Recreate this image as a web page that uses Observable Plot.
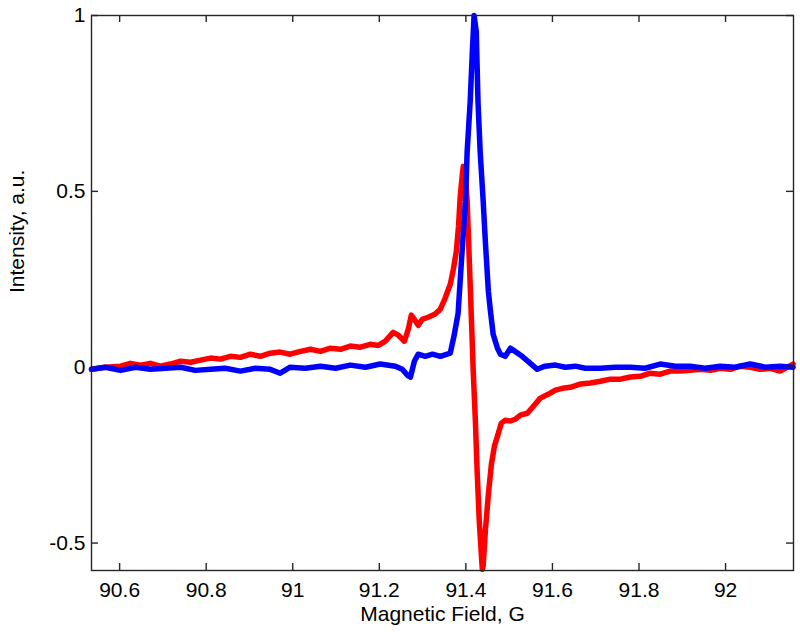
<!DOCTYPE html>
<html>
<head>
<meta charset="utf-8">
<script src="https://cdn.jsdelivr.net/npm/d3@7"></script>
<script src="https://cdn.jsdelivr.net/npm/@observablehq/plot@0.6"></script>
<style>
  html, body { margin: 0; padding: 0; background: #fff; }
  #chart { width: 800px; height: 641px; }
</style>
</head>
<body>
<div id="chart"></div>
<script>
// Tick values and axis extents
const xTicks = [90.6, 90.8, 91, 91.2, 91.4, 91.6, 91.8, 92];
const yTicks = [-0.5, 0, 0.5, 1];
const xDomain = [90.535, 92.157];
const yDomain = [-0.578, 1];
const xLabel = "Magnetic Field, G";
const yLabel = "Intensity, a.u.";

// Blue series (absorption)
const blueField = [90.535,90.567,90.602,90.637,90.671,90.706,90.741,90.775,90.810,90.844,90.879,90.914,90.948,90.971,90.994,91.029,91.064,91.099,91.133,91.168,91.202,91.237,91.253,91.265,91.272,91.281,91.290,91.306,91.323,91.341,91.364,91.373,91.382,91.392,91.399,91.403,91.410,91.415,91.419,91.424,91.428,91.433,91.440,91.445,91.452,91.456,91.463,91.473,91.480,91.491,91.503,91.514,91.530,91.549,91.565,91.583,91.607,91.630,91.653,91.676,91.711,91.745,91.780,91.814,91.849,91.884,91.918,91.953,91.988,92.022,92.057,92.092,92.126,92.156];
const blueInt = [-0.006,0.0,-0.009,0.0,-0.006,-0.003,0.0,-0.009,-0.006,-0.003,-0.011,-0.003,-0.006,-0.017,0.0,-0.003,0.003,-0.003,0.006,0.0,0.009,0.003,-0.006,-0.023,-0.028,0.017,0.037,0.031,0.037,0.031,0.040,0.091,0.153,0.344,0.472,0.614,0.756,0.898,1.0,0.955,0.756,0.614,0.472,0.358,0.216,0.168,0.094,0.054,0.037,0.031,0.054,0.045,0.031,0.011,-0.006,0.003,0.006,0.0,0.003,-0.003,-0.003,0.0,0.0,-0.003,0.009,0.003,0.003,-0.003,0.003,0.0,0.009,0.0,0.003,0.0];

// Red series (dispersion)
const redField = [90.535,90.567,90.602,90.625,90.648,90.671,90.694,90.717,90.741,90.764,90.787,90.810,90.833,90.856,90.879,90.902,90.925,90.948,90.971,90.994,91.018,91.041,91.064,91.087,91.110,91.133,91.156,91.179,91.198,91.214,91.232,91.244,91.258,91.267,91.274,91.281,91.290,91.299,91.313,91.329,91.341,91.352,91.364,91.371,91.378,91.383,91.387,91.392,91.394,91.399,91.403,91.408,91.413,91.417,91.422,91.426,91.431,91.436,91.438,91.440,91.445,91.452,91.459,91.466,91.473,91.482,91.491,91.503,91.514,91.526,91.542,91.556,91.572,91.590,91.607,91.623,91.641,91.664,91.688,91.711,91.734,91.757,91.780,91.803,91.826,91.849,91.872,91.895,91.918,91.941,91.965,91.988,92.011,92.034,92.057,92.080,92.103,92.126,92.156];
const redInt = [-0.006,0.0,0.003,0.011,0.006,0.011,0.003,0.009,0.017,0.014,0.020,0.026,0.023,0.031,0.028,0.037,0.031,0.040,0.043,0.037,0.045,0.051,0.045,0.054,0.051,0.060,0.057,0.065,0.062,0.074,0.099,0.091,0.074,0.108,0.148,0.136,0.119,0.136,0.142,0.151,0.165,0.196,0.236,0.278,0.330,0.401,0.486,0.551,0.571,0.543,0.472,0.301,0.131,-0.011,-0.153,-0.295,-0.438,-0.537,-0.575,-0.565,-0.466,-0.361,-0.276,-0.224,-0.196,-0.159,-0.151,-0.153,-0.148,-0.136,-0.131,-0.111,-0.088,-0.077,-0.065,-0.060,-0.057,-0.048,-0.045,-0.040,-0.034,-0.034,-0.028,-0.026,-0.017,-0.020,-0.011,-0.011,-0.009,-0.006,-0.009,-0.003,-0.006,0.003,0.0,-0.006,-0.003,-0.011,0.009];

const blue = blueField.map((f, i) => ({field: f, intensity: blueInt[i]}));
const red = redField.map((f, i) => ({field: f, intensity: redInt[i]}));

const W = 800, H = 641, ML = 91, MR = 7, MT = 15, MB = 71;
const frameW = W - ML - MR, frameH = H - MT - MB, tickLen = 7;
// tick length expressed in each scale's units
const tdy = tickLen / frameH * (yDomain[1] - yDomain[0]);
const tdx = tickLen / frameW * (xDomain[1] - xDomain[0]);
const axisColor = "#262626";
const fmt = d => String(d);
const tickStyle = {stroke: axisColor, strokeWidth: 1.4};

const chart = Plot.plot({
  width: W,
  height: H,
  marginLeft: ML,
  marginRight: MR,
  marginTop: MT,
  marginBottom: MB,
  style: {fontFamily: "'Liberation Sans', Arial, sans-serif", fontSize: "21px", background: "#fff", color: "#000"},
  x: {domain: xDomain},
  y: {domain: yDomain},
  marks: [
    Plot.line(red, {x: "field", y: "intensity", stroke: "#ff0000", strokeWidth: 5.5, strokeLinejoin: "round", strokeLinecap: "round"}),
    Plot.line(blue, {x: "field", y: "intensity", stroke: "#0000ff", strokeWidth: 5.5, strokeLinejoin: "round", strokeLinecap: "round"}),
    // inward tick marks on all four sides
    Plot.ruleX(xTicks, {x: d => d, y1: yDomain[0], y2: yDomain[0] + tdy, ...tickStyle}),
    Plot.ruleX(xTicks, {x: d => d, y1: yDomain[1] - tdy, y2: yDomain[1], ...tickStyle}),
    Plot.ruleY(yTicks, {y: d => d, x1: xDomain[0], x2: xDomain[0] + tdx, ...tickStyle}),
    Plot.ruleY(yTicks, {y: d => d, x1: xDomain[1] - tdx, x2: xDomain[1], ...tickStyle}),
    // tick labels
    Plot.axisX({anchor: "bottom", ticks: xTicks, tickFormat: fmt, tickSize: 0, tickPadding: 12, fontSize: 21, label: null, color: "#000"}),
    Plot.axisY({anchor: "left", ticks: yTicks, tickFormat: fmt, tickSize: 0, tickPadding: 6, fontSize: 21, label: null, color: "#000"}),
    Plot.frame({stroke: axisColor, strokeWidth: 1.4}),
    Plot.text([xLabel], {frameAnchor: "bottom", dy: 50, fontSize: 21, fill: "#000"}),
    Plot.text([yLabel], {frameAnchor: "left", dx: -74, rotate: -90, fontSize: 21, fill: "#000"})
  ]
});
document.getElementById("chart").appendChild(chart);
</script>
</body>
</html>
